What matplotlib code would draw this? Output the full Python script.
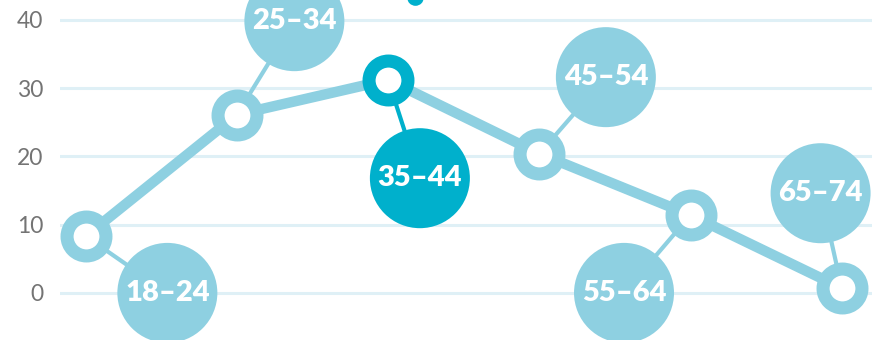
import matplotlib.pyplot as plt

# data
age_groups = ["18-24", "25-34", "35-44", "45-54", "55-64", "65-74"]
values = [8.3, 26.1, 31.2, 20.4, 11.4, 0.7]
# where each label bubble sits (x in category units, y in value units)
bubble_x = [0.54, 1.38, 2.21, 3.44, 3.56, 4.86]
bubble_y = [0.0, 39.8, 16.8, 31.6, 0.0, 14.6]
highlight = "35-44"
yticks = [0, 10, 20, 30, 40]

light = "#8ed0e1"
dark = "#00b0cc"

fig = plt.figure(figsize=(8.72, 3.4), dpi=100)
ax = fig.add_axes([60 / 872, 0, 1 - 60 / 872, 1])
ax.set_xlim(-0.17, 5.2)
ax.set_ylim(-6.9, 42.9)

ax.set_yticks(yticks)
ax.set_yticklabels([str(t) for t in yticks])
ax.set_xticks([])
ax.tick_params(axis="y", length=0, pad=12, labelsize=16.5, labelcolor="#747474")
for lab in ax.get_yticklabels():
    lab.set_fontfamily(["Lato", "DejaVu Sans"])
for s in ax.spines.values():
    s.set_visible(False)
ax.yaxis.grid(True, color="#dff0f6", linewidth=2.2, zorder=0)
ax.set_axisbelow(True)

xs = list(range(len(age_groups)))
cols = [dark if g == highlight else light for g in age_groups]

# leader lines from point to bubble
for x, y, bx, by, c in zip(xs, values, bubble_x, bubble_y, cols):
    ax.plot([x, bx], [y, by], color=c, lw=3, zorder=2, clip_on=False)

# bubbles with labels
ax.scatter(bubble_x, bubble_y, s=72 ** 2, c=cols, linewidths=0, zorder=3, clip_on=False)
for g, bx, by in zip(age_groups, bubble_x, bubble_y):
    ax.text(bx, by, g.replace("-", "\u2013"), color="white", ha="center", va="center",
            fontsize=21, fontweight="heavy", family=["Lato", "DejaVu Sans"], zorder=4)

# main line and ring markers
ax.plot(xs, values, color=light, lw=7.5, zorder=5, solid_capstyle="round", clip_on=False)
for x, y, c in zip(xs, values, cols):
    ax.plot([x], [y], marker="o", ms=28, mew=9.4, mec=c, mfc="white", zorder=6, clip_on=False)

# small dot cut off at the top edge
ax.scatter([2.18], [43.3], s=12 ** 2, c=dark, linewidths=0, zorder=3, clip_on=False)

fig.savefig("out.png", dpi=100)
